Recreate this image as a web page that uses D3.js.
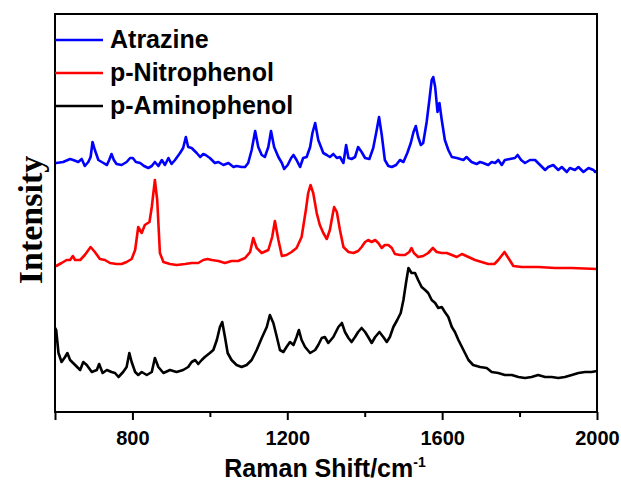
<!DOCTYPE html>
<html>
<head>
<meta charset="utf-8">
<script src="https://cdn.jsdelivr.net/npm/d3@7"></script>
<style>
  body { margin: 0; background: #fff; }
  svg { display: block; }
</style>
</head>
<body>
<div id="chart"></div>
<script>
// Raman spectra, values (wavenumber, intensity a.u.)
const atrazine = [
  [600,249],[603,249],[621,250],[639,253],[647,252],[660,250],[669,253],[677,246],[686,250],[692,255],
  [697,270],[703,262],[712,252],[725,249],[734,247],[740,252],[746,258],[752,252],[759,248],[772,247],
  [785,250],[794,254],[801,254],[809,250],[820,249],[830,246],[841,244],[850,246],[858,250],[867,246],
  [876,252],[884,247],[893,254],[901,248],[910,252],[923,259],[931,264],[938,275],[944,265],[953,264],
  [966,259],[975,255],[983,258],[989,257],[1000,254],[1013,249],[1022,250],[1035,247],[1048,249],[1061,245],
  [1069,246],[1082,245],[1091,245],[1099,249],[1108,262],[1117,281],[1125,265],[1134,257],[1142,255],[1151,265],
  [1158,281],[1166,265],[1177,255],[1186,249],[1192,243],[1201,247],[1210,254],[1216,257],[1224,252],[1233,245],
  [1241,254],[1250,255],[1259,265],[1265,279],[1272,289],[1280,272],[1293,259],[1302,257],[1310,255],[1319,258],
  [1328,254],[1336,255],[1345,249],[1352,267],[1358,254],[1366,253],[1375,255],[1383,265],[1392,260],[1401,254],
  [1412,253],[1422,264],[1431,282],[1437,295],[1444,277],[1452,252],[1461,246],[1470,245],[1481,247],[1491,252],
  [1500,250],[1510,259],[1519,269],[1526,280],[1532,286],[1538,275],[1545,267],[1551,269],[1560,290],[1567,312],
  [1573,332],[1577,335],[1582,325],[1588,300],[1593,309],[1599,292],[1607,272],[1616,262],[1625,255],[1638,254],
  [1655,252],[1663,255],[1676,250],[1689,248],[1698,250],[1706,249],[1719,247],[1728,250],[1737,249],[1745,252],
  [1754,247],[1762,252],[1775,253],[1788,254],[1795,257],[1804,252],[1814,249],[1827,252],[1840,252],[1853,247],
  [1866,242],[1874,245],[1887,247],[1900,242],[1909,245],[1922,240],[1930,244],[1943,242],[1952,245],[1965,240],
  [1978,244],[1991,242],[1995,240],[2000,241]
];

const nitrophenol = [
  [600,146],[603,146],[617,149],[630,152],[639,152],[646,156],[652,152],[665,152],[677,157],[692,165],
  [703,160],[716,153],[729,152],[742,149],[759,148],[772,148],[785,150],[798,153],[807,162],[815,185],
  [824,179],[832,187],[844,190],[850,205],[858,232],[864,212],[871,159],[880,150],[897,148],[914,147],
  [936,148],[953,149],[970,149],[983,152],[994,153],[1005,152],[1022,151],[1039,149],[1056,151],[1073,151],
  [1091,154],[1104,160],[1112,174],[1121,164],[1134,159],[1151,162],[1161,175],[1168,191],[1177,172],[1186,156],
  [1198,157],[1211,160],[1224,164],[1237,175],[1248,202],[1254,219],[1260,227],[1267,219],[1276,199],[1284,187],
  [1293,179],[1302,173],[1310,182],[1317,197],[1321,205],[1328,200],[1336,182],[1345,165],[1358,160],[1371,159],
  [1383,161],[1392,165],[1401,170],[1409,172],[1418,170],[1427,172],[1435,169],[1444,164],[1452,167],[1461,167],
  [1470,164],[1478,158],[1491,157],[1504,157],[1515,160],[1521,164],[1527,159],[1538,155],[1551,156],[1564,159],
  [1576,164],[1586,160],[1599,159],[1612,159],[1625,157],[1638,155],[1651,158],[1668,155],[1685,152],[1702,150],
  [1719,148],[1735,148],[1745,152],[1761,160],[1771,154],[1784,146],[1805,145],[1848,145],[1892,144],[1935,144],
  [2000,143]
];

const aminophenol = [
  [600,84],[603,82],[609,59],[617,50],[626,55],[632,59],[639,52],[652,47],[665,42],[673,50],
  [682,47],[695,40],[708,42],[714,48],[723,39],[734,42],[746,40],[755,39],[764,35],[776,40],
  [785,45],[792,59],[798,50],[807,40],[815,37],[824,40],[837,37],[850,40],[858,54],[867,45],
  [880,39],[897,42],[914,40],[931,42],[944,45],[953,50],[962,52],[970,48],[979,52],[987,55],
  [1000,59],[1009,62],[1018,72],[1026,85],[1032,90],[1039,75],[1046,59],[1056,52],[1069,47],[1082,45],
  [1095,47],[1108,52],[1121,62],[1134,74],[1147,85],[1155,97],[1164,89],[1173,75],[1181,62],[1190,60],
  [1198,65],[1207,70],[1216,67],[1224,75],[1230,82],[1237,72],[1246,65],[1259,59],[1272,62],[1280,67],
  [1289,74],[1297,75],[1306,69],[1319,75],[1332,85],[1341,89],[1349,80],[1358,74],[1366,70],[1375,75],
  [1383,80],[1392,84],[1401,80],[1409,75],[1418,69],[1427,75],[1438,80],[1448,75],[1457,70],[1465,75],
  [1474,85],[1484,92],[1493,99],[1500,112],[1507,130],[1513,144],[1521,139],[1530,139],[1538,132],[1547,125],
  [1556,122],[1564,119],[1573,112],[1582,109],[1590,104],[1599,105],[1607,100],[1616,95],[1625,85],[1633,80],
  [1642,72],[1655,62],[1668,52],[1680,47],[1698,45],[1715,44],[1728,40],[1745,39],[1762,37],[1780,37],
  [1797,35],[1814,34],[1831,35],[1848,37],[1866,35],[1883,35],[1900,34],[1917,35],[1935,37],[1952,39],
  [1969,40],[1986,40],[2000,41]
];

const seriesNames = ["Atrazine", "p-Nitrophenol", "p-Aminophenol"];
const seriesColors = ["#0000ff", "#ff0000", "#000000"];
const majorTicks = [600, 800, 1200, 1600, 2000];
const minorTicks = [1000, 1400, 1800];
const tickLabels = ["", "800", "1200", "1600", "2000"];

const width = 621, height = 483;
const margin = { top: 14, right: 24, bottom: 71, left: 55 };

const svg = d3.select("#chart").append("svg")
  .attr("width", width)
  .attr("height", height);

const x = d3.scaleLinear().domain([600, 2000]).range([margin.left, width - margin.right]);
const y = d3.scaleLinear().domain([0, 398]).range([height - margin.bottom, margin.top]);

const line = d3.line()
  .x(d => x(d[0]))
  .y(d => y(d[1]));

const allSeries = [atrazine, nitrophenol, aminophenol];

svg.append("g")
  .selectAll("path")
  .data(allSeries)
  .enter().append("path")
  .attr("d", line)
  .attr("fill", "none")
  .attr("stroke", (d, i) => seriesColors[i])
  .attr("stroke-width", 2.6)
  .attr("stroke-linejoin", "round");

// frame
svg.append("rect")
  .attr("x", x(600))
  .attr("y", y(398))
  .attr("width", x(2000) - x(600))
  .attr("height", y(0) - y(398))
  .attr("fill", "none")
  .attr("stroke", "#000")
  .attr("stroke-width", 2);

// bottom axis
const xAxis = svg.append("g")
  .attr("transform", `translate(0,${y(0)})`)
  .call(d3.axisBottom(x).tickValues(majorTicks).tickSize(8)
    .tickFormat((d, i) => tickLabels[i]));

xAxis.select(".domain").remove();
xAxis.selectAll("line").attr("stroke-width", 2);
xAxis.selectAll("text")
  .attr("y", 33)
  .attr("dy", 0)
  .attr("font-family", "'Liberation Sans', Arial, sans-serif")
  .attr("font-weight", "bold")
  .attr("font-size", 20)
  .attr("fill", "#000");

const xMinor = svg.append("g")
  .attr("transform", `translate(0,${y(0)})`)
  .call(d3.axisBottom(x).tickValues(minorTicks).tickSize(5).tickFormat(""));
xMinor.select(".domain").remove();
xMinor.selectAll("line").attr("stroke-width", 2);

// axis titles
const title = svg.append("text")
  .attr("x", 325)
  .attr("y", 477)
  .attr("text-anchor", "middle")
  .attr("font-family", "'Liberation Sans', Arial, sans-serif")
  .attr("font-weight", "bold")
  .attr("font-size", 25)
  .attr("fill", "#000");
title.append("tspan").text("Raman Shift/cm");
title.append("tspan").attr("dy", -10).attr("font-size", 14).text("-1");

svg.append("text")
  .attr("transform", "translate(42,220) rotate(-90)")
  .attr("text-anchor", "middle")
  .attr("font-family", "'Liberation Serif', 'Times New Roman', serif")
  .attr("font-weight", "bold")
  .attr("font-size", 34)
  .attr("fill", "#000")
  .text("Intensity");

// legend
const legend = svg.append("g")
  .selectAll("g")
  .data(seriesNames)
  .enter().append("g")
  .attr("transform", (d, i) => `translate(${margin.left},${40 + i * 33})`);

legend.append("line")
  .attr("x1", 0).attr("x2", 48)
  .attr("y1", 0).attr("y2", 0)
  .attr("stroke", (d, i) => seriesColors[i])
  .attr("stroke-width", 2.6);

legend.append("text")
  .attr("x", 55)
  .attr("y", 8)
  .attr("font-family", "'Liberation Sans', Arial, sans-serif")
  .attr("font-weight", "bold")
  .attr("font-size", 25)
  .attr("fill", "#000")
  .text(d => d);
</script>
</body>
</html>
